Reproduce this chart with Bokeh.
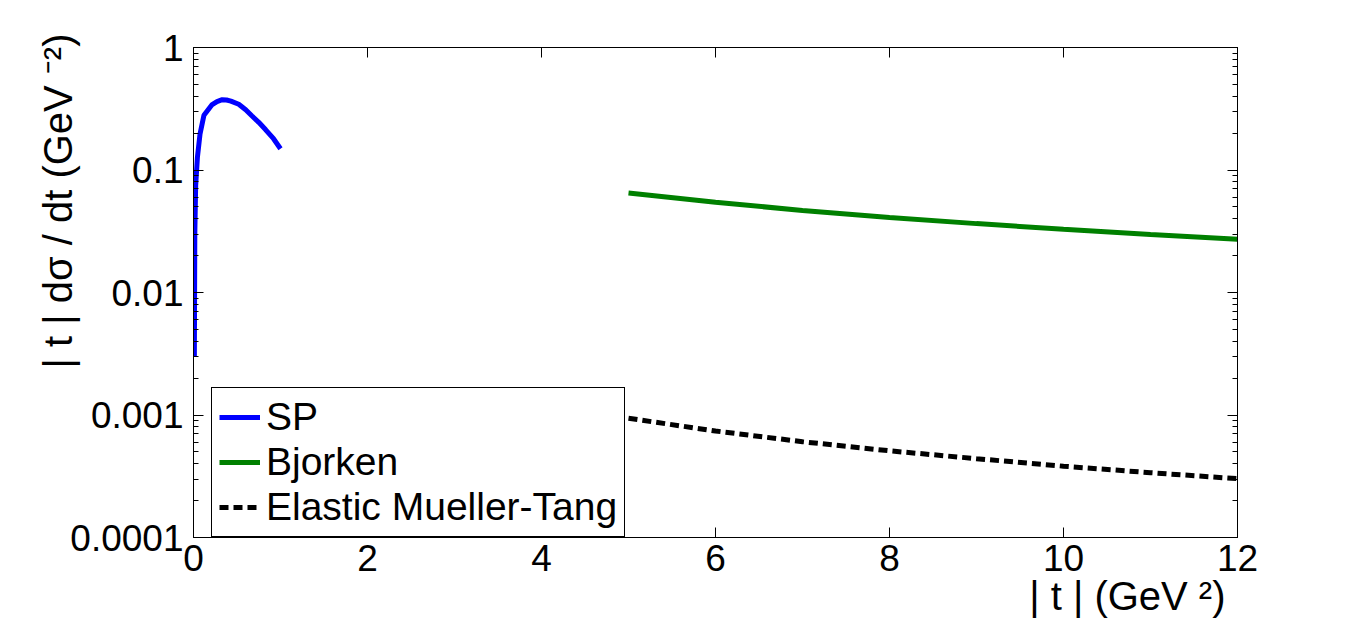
from bokeh.plotting import figure
from bokeh.models import (FixedTicker, LinearAxis, LogAxis, Legend, LegendItem,
                          CustomJSTickFormatter, Range1d, Title)
from bokeh.embed import file_html
from bokeh.resources import INLINE

# ---- data ----
sp_t = [0.01, 0.015, 0.025, 0.045, 0.075, 0.12, 0.21, 0.27, 0.33, 0.38, 0.43, 0.52, 0.60, 0.67, 0.75, 0.83, 0.92, 1.0]
sp_v = [0.003, 0.03, 0.075, 0.127, 0.197, 0.28, 0.34, 0.362, 0.375, 0.373, 0.365, 0.344, 0.31, 0.277, 0.245, 0.213, 0.18, 0.149]

bj_t = [5, 6, 7, 8, 9, 10, 11, 12]
bj_v = [0.065, 0.0545, 0.0468, 0.041, 0.0365, 0.0328, 0.0298, 0.0272]

mt_t = [5, 6, 7, 8, 9, 10, 11, 12]
mt_v = [0.00094, 0.00074, 0.000605, 0.00051, 0.00044, 0.000382, 0.000338, 0.000302]

x_ticks = [0, 2, 4, 6, 8, 10, 12]
y_ticks = [0.0001, 0.001, 0.01, 0.1, 1]
series_names = ["SP", "Bjorken", "Elastic Mueller-Tang"]
x_label = "| t | (GeV ²)"
y_label = "| t | dσ / dt (GeV ⁻²)"

FONT = "Liberation Sans"
TICK_FS = "37px"
LAB_FS = "40px"

W, H = 1366, 627
p = figure(width=W, height=H, y_axis_type="log",
           x_range=Range1d(0, 12), y_range=Range1d(1e-4, 1),
           output_backend="svg", toolbar_location=None,
           min_border_left=193, min_border_right=W - 1237,
           min_border_top=47, min_border_bottom=H - 537)
p.grid.visible = False
p.outline_line_color = "black"
p.outline_line_alpha = 1.0
p.outline_line_width = 1
p.background_fill_color = "white"
p.border_fill_color = "white"

y_minor = [m * 10 ** e for e in range(-4, 0) for m in range(2, 10)]
xt = FixedTicker(ticks=x_ticks, minor_ticks=[])
yt = FixedTicker(ticks=y_ticks, minor_ticks=y_minor)


def style_axis(ax, show_labels=True):
    ax.axis_line_color = "black"
    ax.major_tick_line_color = "black"
    ax.minor_tick_line_color = "black"
    ax.major_tick_in = 10
    ax.major_tick_out = 0
    ax.minor_tick_in = 5
    ax.minor_tick_out = 0
    ax.major_label_text_font = FONT
    if show_labels:
        ax.major_label_text_color = "black"
        ax.major_label_text_font_size = TICK_FS
    else:
        ax.major_label_text_color = None
        ax.major_label_text_font_size = "8px"
        ax.major_label_standoff = 0


p.xaxis.ticker = xt
p.yaxis.ticker = yt
p.yaxis.formatter = CustomJSTickFormatter(code="return tick.toString();")
for ax in p.xaxis:
    style_axis(ax)
    ax.major_label_standoff = 7
for ax in p.yaxis:
    style_axis(ax)
    ax.major_label_standoff = 10

top = LinearAxis(ticker=FixedTicker(ticks=x_ticks, minor_ticks=[]))
style_axis(top, False)
p.add_layout(top, "above")
right = LogAxis(ticker=FixedTicker(ticks=y_ticks, minor_ticks=y_minor))
style_axis(right, False)
p.add_layout(right, "right")

r1 = p.line(sp_t, sp_v, line_color="#0000ff", line_width=5)
r2 = p.line(bj_t, bj_v, line_color="#008000", line_width=5)
r3 = p.line(mt_t, mt_v, line_color="black", line_width=5, line_dash="9 5")

legend = Legend(items=[LegendItem(label=series_names[0], renderers=[r1]),
                       LegendItem(label=series_names[1], renderers=[r2]),
                       LegendItem(label=series_names[2], renderers=[r3])],
                location=(18, 0))
legend.border_line_color = "black"
legend.border_line_width = 1
legend.border_line_alpha = 1
legend.background_fill_color = "white"
legend.background_fill_alpha = 1
legend.label_text_font = FONT
legend.label_text_font_size = "39px"
legend.label_text_color = "black"
legend.glyph_width = 41
legend.glyph_height = 44
legend.label_height = 44
legend.spacing = 1
legend.padding = 7
legend.margin = 0
legend.label_standoff = 6
p.add_layout(legend)

# axis labels as side-panel titles
ytitle = Title(text=y_label, align="right", offset=-14, standoff=-24,
               text_font=FONT, text_font_size=LAB_FS, text_font_style="normal",
               text_color="black")
p.add_layout(ytitle, "left")

xtitle = Title(text=x_label, align="right", offset=12, standoff=-4,
               text_font=FONT, text_font_size=LAB_FS, text_font_style="normal",
               text_color="black")
p.add_layout(xtitle, "below")

open("out.html", "w").write(file_html(p, INLINE))
